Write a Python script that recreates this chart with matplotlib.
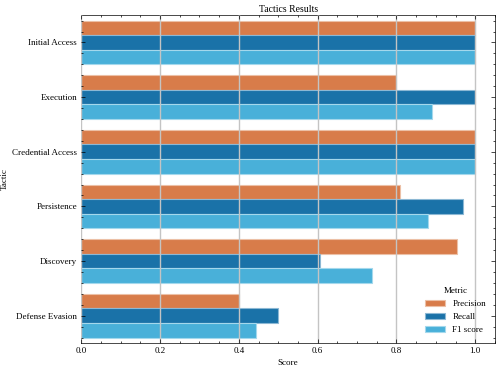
import numpy as np
import matplotlib
matplotlib.use('Agg')
import matplotlib.pyplot as plt
from matplotlib.ticker import AutoMinorLocator

# data
tactics = ['Initial Access', 'Execution', 'Credential Access', 'Persistence', 'Discovery', 'Defense Evasion']
precision = [1.0, 0.80, 1.0, 0.808, 0.953, 0.40]
recall = [1.0, 1.0, 1.0, 0.968, 0.605, 0.50]
f1_score = [1.0, 0.889, 1.0, 0.881, 0.739, 0.443]
metrics = ['Precision', 'Recall', 'F1 score']
colors = ['#d87c4a', '#1a72a8', '#49b0d9']
edges = ['#ecc0a6', '#8cb8d4', '#a4d8ec']

plt.rcParams['font.family'] = ['Liberation Serif', 'DejaVu Serif']
plt.rcParams['font.size'] = 6.5

fig = plt.figure(figsize=(4.98, 3.7), dpi=100)
ax = fig.add_axes([0.163, 0.073, 0.831, 0.886])

y = np.arange(len(tactics))
h = 0.8 / 3
for k, (vals, name) in enumerate(zip([precision, recall, f1_score], metrics)):
    ax.barh(y + (k - 1) * h, vals, height=h, color=colors[k], edgecolor=edges[k],
            linewidth=0.8, label=name, zorder=1)

ax.set_yticks(y)
ax.set_yticklabels(tactics)
ax.set_ylim(5.5, -0.5)
ax.set_xlim(0, 1.05)
ax.xaxis.set_minor_locator(AutoMinorLocator())
ax.yaxis.set_minor_locator(AutoMinorLocator())
ax.tick_params(which='both', direction='in', top=True, right=True)
ax.tick_params(which='major', length=3, width=0.5, pad=3)
ax.tick_params(which='minor', length=1.5, width=0.5)
for s in ax.spines.values():
    s.set_linewidth(0.5)

ax.grid(axis='x', which='major', color='#c4c4c4', linewidth=1.0, zorder=2)
ax.set_axisbelow(False)

ax.set_title('Tactics Results', fontsize=7, pad=2)
ax.set_xlabel('Score', labelpad=3)
ax.set_ylabel('Tactic', labelpad=2)
ax.legend(title='Metric', loc='lower right', frameon=False, fontsize=6.5,
          title_fontsize=6.5, handlelength=2.2, borderaxespad=0.6)

plt.savefig('out.png', dpi=100)
